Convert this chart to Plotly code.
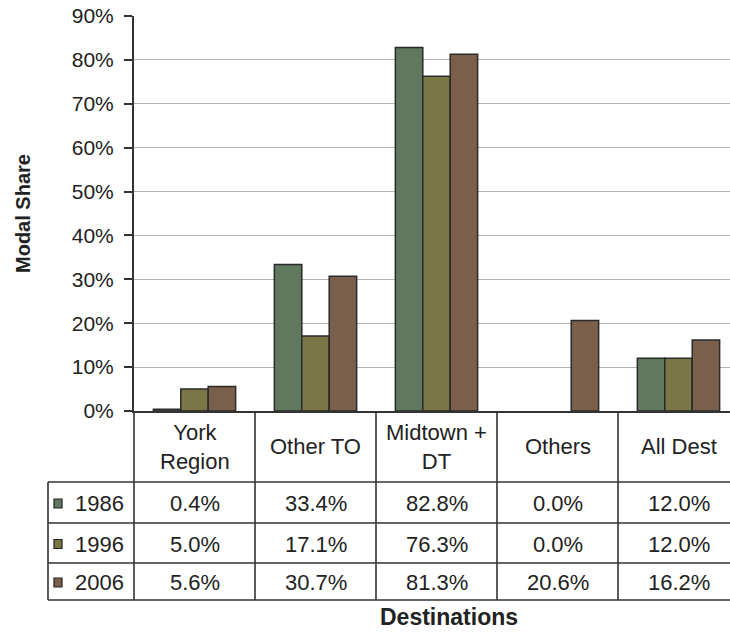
import plotly.graph_objects as go

categories = ["York<br>Region", "Other TO", "Midtown +<br>DT", "Others", "All Dest"]
years = ["1986", "1996", "2006"]
share_1986 = [0.4, 33.4, 82.8, 0.0, 12.0]
share_1996 = [5.0, 17.1, 76.3, 0.0, 12.0]
share_2006 = [5.6, 30.7, 81.3, 20.6, 16.2]
colors = ["#5F785E", "#7A7646", "#7A5F4A"]
y_ticks = [0, 10, 20, 30, 40, 50, 60, 70, 80, 90]

series = [share_1986, share_1996, share_2006]

W, H = 730, 632
L, R, T, B = 134, 0, 16, 221
PW, PH = W - L - R, H - T - B
xr = [-0.5, -0.5 + PW / 121.0]

def px(x):
    return (x - L) / PW

def py(y):
    return (H - B - y) / PH

fig = go.Figure()
for yr, vals, c in zip(years, series, colors):
    fig.add_trace(go.Bar(
        x=list(range(len(categories))), y=vals, name=yr,
        marker=dict(color=c, line=dict(color="#2a2a2a",
                                       width=[1.5 if v > 0 else 0 for v in vals])),
        showlegend=False, hoverinfo="skip"))

txt = "#222222"
ln = "#333333"
annotations = []
shapes = []

# header row
for i, cat in enumerate(categories):
    annotations.append(dict(x=i, xref="x", y=py(446.5), yref="paper", text=cat,
                            showarrow=False, font=dict(size=22, color=txt),
                            xanchor="center", yanchor="middle"))
row_centers = [503.5, 544, 582.5]
for r, (yr, vals, c) in enumerate(zip(years, series, colors)):
    yc = py(row_centers[r])
    for i, v in enumerate(vals):
        annotations.append(dict(x=i, xref="x", y=yc, yref="paper", text=f"{v:.1f}%",
                                showarrow=False, font=dict(size=22, color=txt),
                                xanchor="center", yanchor="middle"))
    annotations.append(dict(x=px(73), xref="paper", y=yc, yref="paper", text=yr,
                            showarrow=False, font=dict(size=22, color=txt),
                            xanchor="left", yanchor="middle"))
    shapes.append(dict(type="rect", xref="paper", yref="paper",
                       x0=px(54), x1=px(62), y0=yc - 4.5 / PH, y1=yc + 4.5 / PH,
                       fillcolor=c, line=dict(color="#222222", width=1.2)))

# table lines
for yline in [482, 523, 563, 600]:
    shapes.append(dict(type="line", xref="paper", yref="paper", x0=px(48), x1=px(W + 5),
                       y0=py(yline), y1=py(yline), line=dict(color=ln, width=1.6)))
shapes.append(dict(type="line", xref="paper", yref="paper", x0=px(48), x1=px(48),
                   y0=py(482), y1=py(600), line=dict(color=ln, width=1.6)))
for i in range(len(categories)):
    xb = L + 121 * i
    shapes.append(dict(type="line", xref="paper", yref="paper", x0=px(xb), x1=px(xb),
                       y0=py(411), y1=py(600), line=dict(color=ln, width=1.6)))

annotations.append(dict(x=px(449), xref="paper", y=py(632), yref="paper", text="<b>Destinations</b>",
                        showarrow=False, font=dict(size=23, color=txt),
                        xanchor="center", yanchor="bottom"))
annotations.append(dict(x=px(23), xref="paper", y=py(214), yref="paper", text="<b>Modal Share</b>",
                        showarrow=False, font=dict(size=20, color=txt), textangle=-90,
                        xanchor="center", yanchor="middle"))

fig.update_layout(
    width=W, height=H,
    margin=dict(l=L, r=R, t=T, b=B, pad=0),
    paper_bgcolor="white", plot_bgcolor="white",
    font=dict(family="Liberation Sans, Arial, sans-serif", color=txt),
    barmode="group", bargap=0.32, bargroupgap=0,
    xaxis=dict(range=xr, showticklabels=False, ticks="", showgrid=False, zeroline=False,
               showline=True, linecolor=ln, linewidth=2),
    yaxis=dict(range=[0, 90], tickvals=y_ticks, ticktext=[f"{t}%" for t in y_ticks],
               tickfont=dict(size=21, color=txt), ticks="outside", ticklen=8,
               ticklabelstandoff=6,
               tickcolor=ln, tickwidth=1.5, showline=True, linecolor=ln, linewidth=2,
               showgrid=True, gridcolor="#B2B2B2", gridwidth=1, zeroline=False),
    annotations=annotations, shapes=shapes,
)

fig.write_html("out.html", config={"displayModeBar": False},
               post_script="document.body.style.margin='0';document.body.style.overflow='hidden';")
